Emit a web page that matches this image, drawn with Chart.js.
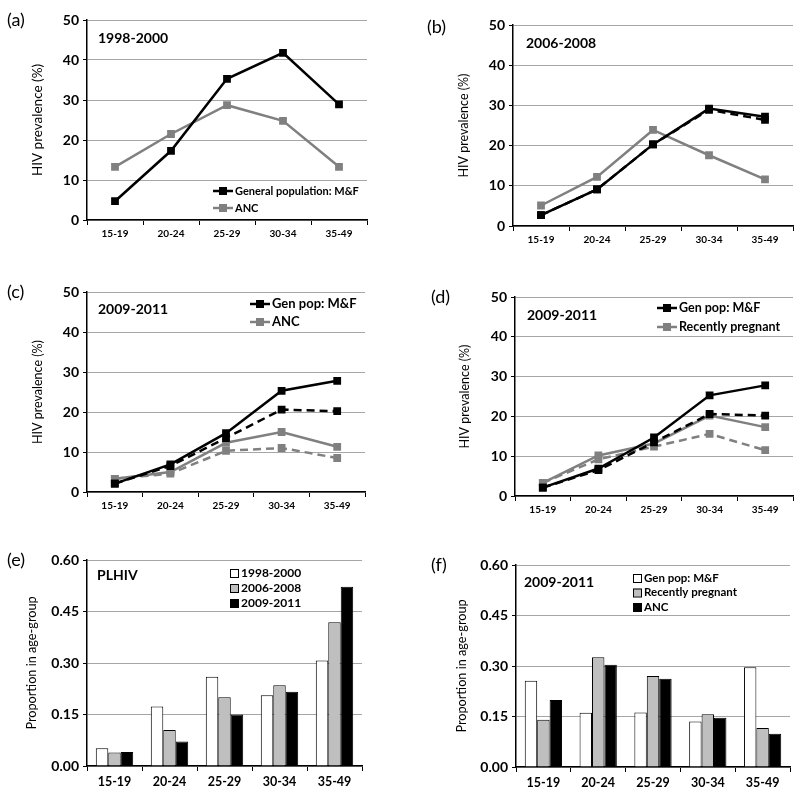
<!DOCTYPE html>
<html>
<head>
<meta charset="utf-8">
<script src="https://cdn.jsdelivr.net/npm/chart.js@4/dist/chart.umd.min.js"></script>
<style>
  body { margin: 0; background: #fff; }
  #wrap { position: relative; width: 800px; height: 795px; }
  canvas { position: absolute; }
  .tag { position: absolute; font: 18px Lato, sans-serif; color: #000; }
</style>
</head>
<body>
<div id="wrap">
  <canvas id="pa" width="400" height="265" style="left:0;top:0"></canvas>
  <canvas id="pb" width="400" height="265" style="left:400px;top:0"></canvas>
  <canvas id="pc" width="400" height="265" style="left:0;top:265px"></canvas>
  <canvas id="pd" width="400" height="265" style="left:400px;top:265px"></canvas>
  <canvas id="pe" width="400" height="265" style="left:0;top:530px"></canvas>
  <canvas id="pf" width="400" height="265" style="left:400px;top:530px"></canvas>
  <div class="tag" style="left:7px;top:8px">(a)</div>
  <div class="tag" style="left:427px;top:15px">(b)</div>
  <div class="tag" style="left:7px;top:280px">(c)</div>
  <div class="tag" style="left:431px;top:285px">(d)</div>
  <div class="tag" style="left:7px;top:548px">(e)</div>
  <div class="tag" style="left:431px;top:553px">(f)</div>
</div>
<script>
const ageGroups = ['15-19', '20-24', '25-29', '30-34', '35-49'];
const prevTicks = [0, 10, 20, 30, 40, 50];
const propTicks = [0, 0.15, 0.30, 0.45, 0.60];

// HIV prevalence (%)
const genPop9800 = [4.7, 17.3, 35.3, 41.8, 28.9];
const anc9800 = [13.3, 21.5, 28.7, 24.8, 13.3];
const genPop0608 = [2.7, 9.1, 20.3, 29.2, 27.2];
const genPop0608Dash = [2.7, 9.1, 20.3, 28.9, 26.4];
const anc0608 = [5.1, 12.2, 23.9, 17.6, 11.6];
const genPop0911 = [2.1, 6.9, 14.7, 25.3, 27.8];
const genPop0911Dash = [2.1, 6.5, 13.5, 20.6, 20.2];
const anc0911 = [3.3, 5.0, 12.3, 15.0, 11.3];
const anc0911Dash = [3.3, 4.6, 10.3, 11.0, 8.5];
const preg0911 = [3.3, 10.2, 13.2, 20.2, 17.3];
const preg0911Dash = [3.3, 9.2, 12.4, 15.6, 11.5];

// proportion in age-group
const plhiv9800 = [0.052, 0.173, 0.260, 0.206, 0.307];
const plhiv0608 = [0.039, 0.105, 0.200, 0.235, 0.419];
const plhiv0911 = [0.041, 0.071, 0.150, 0.216, 0.522];
const shareGenPop = [0.256, 0.161, 0.162, 0.135, 0.296];
const sharePreg = [0.140, 0.326, 0.270, 0.157, 0.116];
const shareAnc = [0.199, 0.304, 0.262, 0.146, 0.099];

const BLACK = '#000000', GREY = '#808080', LIGHT = '#bfbfbf';
const FONT = 'Lato';

// inner title + legend drawn on the canvas
const overlay = {
  id: 'overlay',
  afterDraw(chart, args, o) {
    const ctx = chart.ctx;
    ctx.save();
    ctx.textBaseline = 'middle';
    ctx.fillStyle = '#000';
    ctx.font = 'bold 14px ' + FONT;
    ctx.fillText(o.title, o.titleX, o.titleY);
    ctx.font = 'bold ' + o.size + 'px ' + FONT;
    o.items.forEach(function (it, i) {
      const y = o.y + i * o.dy;
      if (it.box) {
        ctx.fillStyle = it.color;
        ctx.fillRect(o.x, y - 4, 8, 8);
        ctx.strokeStyle = '#000';
        ctx.lineWidth = 1;
        ctx.strokeRect(o.x + 0.5, y - 3.5, 8, 8);
        ctx.fillStyle = '#000';
        ctx.fillText(it.text, o.x + 11, y);
      } else {
        ctx.strokeStyle = it.color;
        ctx.lineWidth = 2.5;
        ctx.beginPath();
        ctx.moveTo(o.x, y);
        ctx.lineTo(o.x + 20, y);
        ctx.stroke();
        ctx.fillStyle = it.color;
        ctx.fillRect(o.x + 6, y - 4, 8, 8);
        ctx.fillStyle = '#000';
        ctx.fillText(it.text, o.x + 22, y);
      }
    });
    ctx.restore();
  }
};

function lineSet(data, color, dashed) {
  return {
    data: data,
    borderColor: color,
    backgroundColor: color,
    borderWidth: 2.5,
    borderDash: dashed ? [8, 5] : [],
    pointStyle: 'rect',
    pointRadius: 5.5,
    pointBorderWidth: 0,
    tension: 0
  };
}

function barSet(data, fill) {
  return {
    data: data,
    backgroundColor: fill,
    borderColor: '#000',
    borderWidth: 1,
    barPercentage: 1,
    categoryPercentage: 0.68
  };
}

function panel(id, type, datasets, box, over) {
  const xh = 30;
  const ticks = type === 'bar' ? propTicks : prevTicks;
  new Chart(document.getElementById(id), {
    type: type,
    data: { labels: ageGroups, datasets: datasets },
    plugins: [overlay],
    options: {
      responsive: false,
      animation: false,
      layout: { padding: { left: box.axisLeft, right: 400 - box.R, top: box.T, bottom: 265 - box.B - xh } },
      plugins: { legend: { display: false }, tooltip: { enabled: false }, overlay: over },
      scales: {
        x: {
          offset: true,
          afterFit: function (s) { s.height = xh; },
          grid: { offset: true, drawOnChartArea: false, tickLength: 5, color: '#000' },
          border: { color: '#000', width: 1.5 },
          ticks: { color: '#000', font: { family: FONT, weight: 'bold', size: box.xSize }, padding: 3, maxRotation: 0 }
        },
        y: {
          min: ticks[0],
          max: ticks[ticks.length - 1],
          afterFit: function (s) { s.width = box.L - box.axisLeft; },
          afterBuildTicks: function (s) { s.ticks = ticks.map(function (v) { return { value: v }; }); },
          grid: { color: '#a6a6a6', lineWidth: 1, tickLength: 4, tickColor: '#000' },
          border: { color: '#000', width: 1.5 },
          ticks: {
            color: '#000',
            padding: 4,
            font: { family: FONT, weight: 'bold', size: 14 },
            callback: function (v) { return type === 'bar' ? Number(v).toFixed(2) : v; }
          },
          title: {
            display: true,
            text: type === 'bar' ? 'Proportion in age-group' : 'HIV prevalence (%)',
            color: '#000',
            font: { family: FONT, size: box.tSize },
            padding: 4
          }
        }
      }
    }
  });
}

panel('pa', 'line', [lineSet(genPop9800, BLACK), lineSet(anc9800, GREY)],
  { L: 87, R: 367, T: 20, B: 220, axisLeft: 26, xSize: 10, tSize: 13.5 },
  { title: '1998-2000', titleX: 98, titleY: 38, x: 213, y: 191, dy: 17, size: 11,
    items: [{ color: BLACK, text: 'General population: M&F' }, { color: GREY, text: 'ANC' }] });

panel('pb', 'line', [lineSet(genPop0608, BLACK), lineSet(genPop0608Dash, BLACK, true), lineSet(anc0608, GREY)],
  { L: 113, R: 393, T: 25, B: 226, axisLeft: 52, xSize: 10, tSize: 12.5 },
  { title: '2006-2008', titleX: 126, titleY: 43, x: 0, y: 0, dy: 0, size: 11, items: [] });

panel('pc', 'line', [lineSet(genPop0911, BLACK), lineSet(genPop0911Dash, BLACK, true), lineSet(anc0911, GREY), lineSet(anc0911Dash, GREY, true)],
  { L: 87, R: 365, T: 27, B: 227, axisLeft: 26, xSize: 10, tSize: 12.5 },
  { title: '2009-2011', titleX: 98, titleY: 44, x: 250, y: 39, dy: 18, size: 13,
    items: [{ color: BLACK, text: 'Gen pop: M&F' }, { color: GREY, text: 'ANC' }] });

panel('pd', 'line', [lineSet(genPop0911, BLACK), lineSet(genPop0911Dash, BLACK, true), lineSet(preg0911, GREY), lineSet(preg0911Dash, GREY, true)],
  { L: 115, R: 393, T: 32, B: 231, axisLeft: 53, xSize: 10, tSize: 12.5 },
  { title: '2009-2011', titleX: 127, titleY: 50, x: 257, y: 43, dy: 19, size: 12.5,
    items: [{ color: BLACK, text: 'Gen pop: M&F' }, { color: GREY, text: 'Recently pregnant' }] });

panel('pe', 'bar', [barSet(plhiv9800, '#ffffff'), barSet(plhiv0608, LIGHT), barSet(plhiv0911, BLACK)],
  { L: 87, R: 362, T: 30, B: 236, axisLeft: 20, xSize: 12.5, tSize: 12.7 },
  { title: 'PLHIV', titleX: 97, titleY: 45, x: 230, y: 43, dy: 15, size: 12,
    items: [{ box: true, color: '#ffffff', text: '1998-2000' }, { box: true, color: LIGHT, text: '2006-2008' }, { box: true, color: BLACK, text: '2009-2011' }] });

panel('pf', 'bar', [barSet(shareGenPop, '#ffffff'), barSet(sharePreg, LIGHT), barSet(shareAnc, BLACK)],
  { L: 116, R: 390, T: 35, B: 237, axisLeft: 50, xSize: 12.5, tSize: 12.7 },
  { title: '2009-2011', titleX: 124, titleY: 52, x: 233, y: 48, dy: 14.5, size: 11.5,
    items: [{ box: true, color: '#ffffff', text: 'Gen pop: M&F' }, { box: true, color: LIGHT, text: 'Recently pregnant' }, { box: true, color: BLACK, text: 'ANC' }] });
</script>
</body>
</html>
